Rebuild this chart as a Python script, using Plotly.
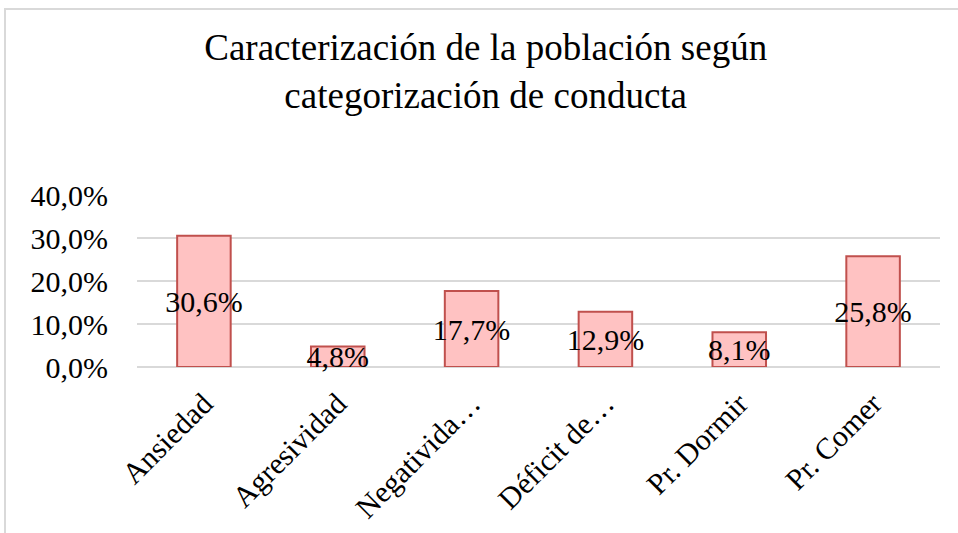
import plotly.graph_objects as go

# data
categorias = ["Ansiedad", "Agresividad", "Negativida…", "Déficit de…", "Pr. Dormir", "Pr. Comer"]
porcentajes = [0.306, 0.048, 0.177, 0.129, 0.081, 0.258]
y_ticks = [0.0, 0.1, 0.2, 0.3, 0.4]

FONT = "Liberation Serif, Times New Roman, serif"
BAR_FILL = "#FFC2C2"
BAR_LINE = "#C0504D"
GRID = "#D9D9D9"

W, H = 958, 533
ML, MR, MT, MB = 137, 18, 195, 166

fig = go.Figure()
fig.add_trace(go.Bar(
    x=categorias, y=porcentajes,
    marker=dict(color=BAR_FILL, line=dict(color=BAR_LINE, width=2)),
    texttemplate="%{y:.1%}", textposition="inside", textangle=0,
    insidetextanchor="middle", constraintext="none",
    insidetextfont=dict(family=FONT, size=30, color="black"),
    cliponaxis=False,
))

# chart frame (Excel chart area border)
pw, ph = W - ML - MR, H - MT - MB
fig.add_shape(
    type="rect", xref="paper", yref="paper",
    x0=(5 - ML) / pw, x1=1 + (MR + 20) / pw,
    y0=-(MB + 20) / ph, y1=1 + (MT - 9) / ph,
    line=dict(color=GRID, width=2), fillcolor="rgba(0,0,0,0)", layer="above",
)

fig.update_layout(
    width=W, height=H,
    margin=dict(l=ML, r=MR, t=MT, b=MB, autoexpand=False),
    paper_bgcolor="white", plot_bgcolor="white",
    separators=",.",
    bargap=0.6,
    showlegend=False,
    font=dict(family=FONT, size=30, color="black"),
    title=dict(
        text="Caracterización de la población según<br>categorización de conducta",
        x=0.507, xanchor="center", xref="container",
        y=0.887, yanchor="top", yref="container",
        font=dict(family=FONT, size=37, color="black"),
    ),
)
fig.update_yaxes(
    range=[0, 0.401], tickvals=y_ticks, tickformat=".1%",
    showgrid=True, gridcolor=GRID, gridwidth=1.5,
    zeroline=True, zerolinecolor=GRID, zerolinewidth=1.5,
    ticklabelstandoff=28, tickfont=dict(size=30), automargin=False,
)
fig.update_xaxes(
    tickangle=-45, tickfont=dict(size=30), automargin=False,
    showline=False, ticks="", ticklabelstandoff=12,
)

# page has a default 8px body margin; remove it so the figure sits at the corner
fig.write_html("out.html", config={"displayModeBar": False},
               post_script="document.body.style.margin='0';")
